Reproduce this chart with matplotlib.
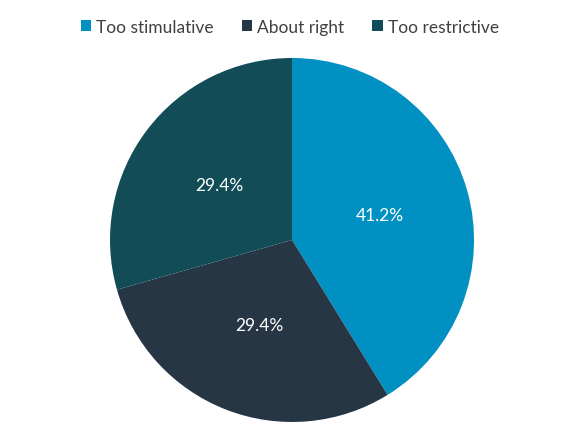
#!/usr/bin/env python3
"""Pie chart: policy stance survey shares."""

import matplotlib

matplotlib.use("Agg")
import matplotlib.pyplot as plt
from matplotlib.patches import Patch

LABELS = ["Too stimulative", "About right", "Too restrictive"]
SHARES = [41.2, 29.4, 29.4]
COLORS = ["#0090C1", "#263645", "#124D57"]

plt.rcParams["font.family"] = ["Lato", "DejaVu Sans"]

fig = plt.figure(figsize=(5.8, 4.35), dpi=100)
ax = fig.add_axes([0.1897, 0.0276, 0.6276, 0.8368])

wedges, texts, autotexts = ax.pie(
    SHARES,
    colors=COLORS,
    startangle=90,
    counterclock=False,
    autopct="%.1f%%",
    pctdistance=0.5,
    wedgeprops={"linewidth": 0},
    textprops={"color": "white", "fontsize": 12.5},
)
ax.set_xlim(-1, 1)
ax.set_ylim(-1, 1)
ax.set_aspect("equal")

handles = [Patch(facecolor=c, edgecolor="none") for c in COLORS]
fig.legend(
    handles,
    LABELS,
    loc="center",
    bbox_to_anchor=(0.5, 0.936),
    ncol=3,
    frameon=False,
    fontsize=12.5,
    handlelength=0.6,
    handleheight=0.6,
    handletextpad=0.3,
    columnspacing=1.6,
    labelcolor="#404040",
)

fig.savefig("out.png", dpi=100)
